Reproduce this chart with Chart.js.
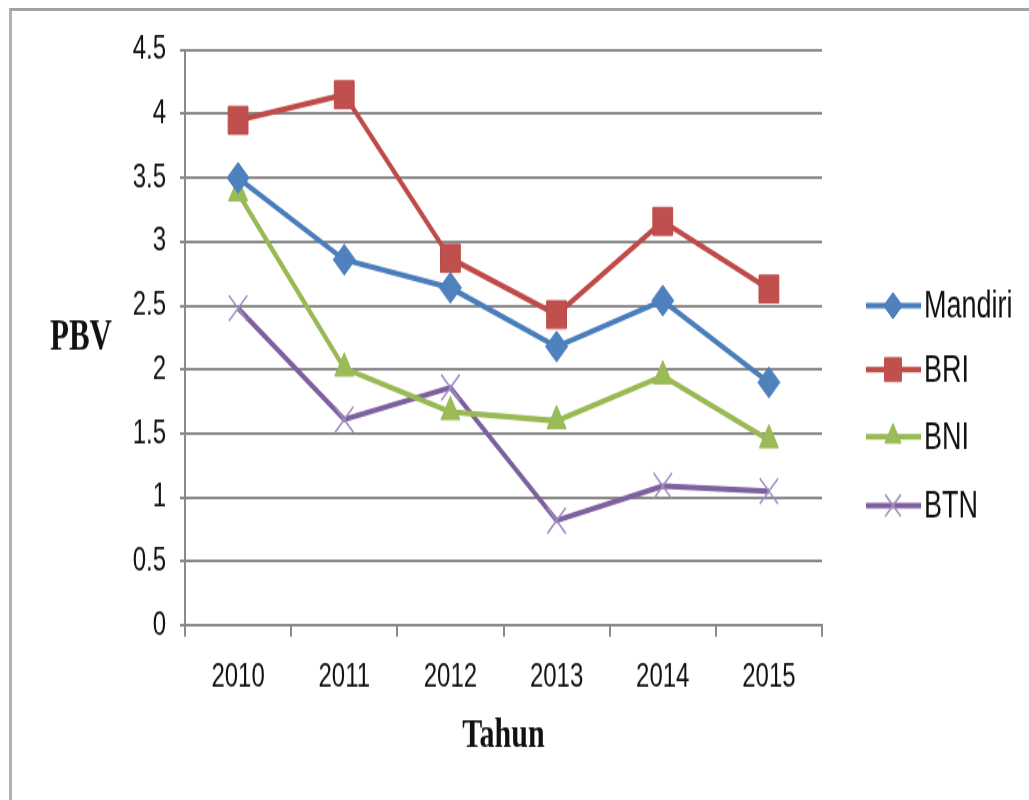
<!DOCTYPE html>
<html>
<head>
<meta charset="utf-8">
<script src="https://cdn.jsdelivr.net/npm/chart.js@4.4.1/dist/chart.umd.min.js"></script>
<style>
  html, body { margin: 0; padding: 0; background: #fff; overflow: hidden; width: 1029px; height: 800px; }
  #frame { position: absolute; left: 9px; top: 8px; width: 1100px; height: 900px;
           border-top: 3px solid #a3a3a3; border-left: 3px solid #b0b0b0; }
  #c { position: absolute; left: 0; top: 0; }
</style>
</head>
<body>
<div id="frame"></div>
<canvas id="c" width="1029" height="572" style="width:1029px;height:800px;"></canvas>
<script>
// ---- data ----
const years = ['2010', '2011', '2012', '2013', '2014', '2015'];
const mandiri = [3.50, 2.86, 2.64, 2.18, 2.54, 1.90];
const bri     = [3.95, 4.15, 2.87, 2.43, 3.16, 2.63];
const bni     = [3.38, 2.01, 1.67, 1.60, 1.95, 1.45];
const btn     = [2.48, 1.61, 1.86, 0.82, 1.09, 1.05];
const seriesNames = ['Mandiri', 'BRI', 'BNI', 'BTN'];
const yTickLabels = ['0', '0.5', '1', '1.5', '2', '2.5', '3', '3.5', '4', '4.5'];
const yAxisTitle = 'PBV';
const xAxisTitle = 'Tahun';

const S = 1.4; // canvas is stretched vertically by CSS
const gridColor = '#8a8a8a';
const tickFont = { family: 'Liberation Sans, Arial, sans-serif', size: 24 };

const legendYs = [306 / S, 370 / S, 437 / S, 506 / S];

const legendPlugin = {
  id: 'customLegend',
  afterDraw(chart) {
    const ctx = chart.ctx;
    ctx.save();
    chart.data.datasets.forEach((ds, i) => {
      const y = legendYs[i];
      ctx.strokeStyle = ds.borderColor;
      ctx.lineWidth = ds.borderWidth;
      ctx.beginPath();
      ctx.moveTo(866, y);
      ctx.lineTo(921, y);
      ctx.stroke();
      ctx.fillStyle = ds.pointBackgroundColor;
      ctx.strokeStyle = ds.pointBorderColor;
      ctx.lineWidth = ds.pointBorderWidth;
      Chart.helpers.drawPoint(ctx, {
        pointStyle: ds.pointStyle, radius: ds.pointRadius * 0.85,
        rotation: 0, borderWidth: ds.pointBorderWidth
      }, 893, y);
      ctx.fillStyle = '#111';
      ctx.font = '27px "Liberation Sans", Arial, sans-serif';
      ctx.textAlign = 'left';
      ctx.textBaseline = 'middle';
      ctx.fillText(ds.label, 924, y + 1);
    });
    // horizontal y-axis title
    ctx.fillStyle = '#111';
    ctx.font = 'bold 31px "Liberation Serif", "Times New Roman", serif';
    ctx.textAlign = 'center';
    ctx.textBaseline = 'middle';
    ctx.fillText(yAxisTitle, 81, 339 / S);
    ctx.restore();
  }
};

const canvas = document.getElementById('c');
new Chart(canvas, {
  type: 'line',
  data: {
    labels: years,
    datasets: [
      { label: seriesNames[0], data: mandiri, borderColor: '#4A7EBB', backgroundColor: '#4F81BD',
        pointBackgroundColor: '#4F81BD', pointBorderColor: '#4A7EBB', pointBorderWidth: 1,
        pointStyle: 'rectRot', pointRadius: 11, borderWidth: 4 },
      { label: seriesNames[1], data: bri, borderColor: '#BE4B48', backgroundColor: '#C0504D',
        pointBackgroundColor: '#C0504D', pointBorderColor: '#BE4B48', pointBorderWidth: 1,
        pointStyle: 'rect', pointRadius: 14, borderWidth: 4 },
      { label: seriesNames[2], data: bni, borderColor: '#98B954', backgroundColor: '#9BBB59',
        pointBackgroundColor: '#9BBB59', pointBorderColor: '#98B954', pointBorderWidth: 1,
        pointStyle: 'triangle', pointRadius: 11, borderWidth: 4 },
      { label: seriesNames[3], data: btn, borderColor: '#7D60A0', backgroundColor: '#8064A2',
        pointBackgroundColor: '#8064A2', pointBorderColor: '#a08cc0', pointBorderWidth: 1.5,
        pointStyle: 'crossRot', pointRadius: 13, borderWidth: 4 }
    ]
  },
  options: {
    responsive: false,
    animation: false,
    devicePixelRatio: 1,
    layout: { padding: { left: 125, right: 207, top: 50 / S, bottom: 0 } },
    plugins: { legend: { display: false }, tooltip: { enabled: false } },
    elements: { line: { tension: 0 } },
    scales: {
      x: {
        offset: true,
        grid: { display: true, drawOnChartArea: false, drawTicks: true, tickLength: 8,
                offset: true, color: gridColor, lineWidth: 2 },
        border: { display: true, color: gridColor, width: 2 },
        ticks: { font: tickFont, color: '#111', padding: 15, maxRotation: 0 },
        title: { display: true, text: xAxisTitle, color: '#111',
                 font: { family: 'Liberation Serif, Times New Roman, serif', size: 30, weight: 'bold' },
                 padding: { top: 0, bottom: 27.6 } },
        afterFit(s) { s.height = 572 - 626 / S; }
      },
      y: {
        min: 0, max: 4.5,
        ticks: { stepSize: 0.5, font: tickFont, color: '#111', padding: 14,
                 callback: (v, i) => yTickLabels[i] },
        grid: { color: gridColor, lineWidth: 2, drawTicks: true, tickLength: 5 },
        border: { display: true, color: gridColor, width: 2 },
        afterFit(s) { s.width = 60; }
      }
    }
  },
  plugins: [legendPlugin]
});
canvas.style.width = '1029px';
canvas.style.height = '800px';
</script>
</body>
</html>
